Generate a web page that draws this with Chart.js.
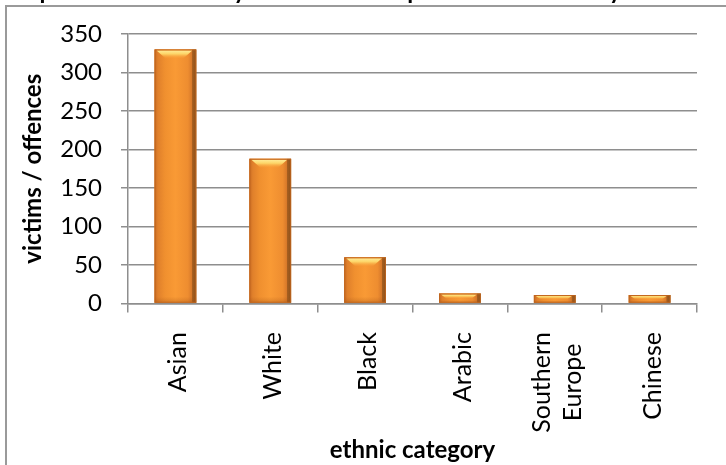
<!DOCTYPE html>
<html>
<head>
<meta charset="utf-8">
<script src="https://cdn.jsdelivr.net/npm/chart.js@4.4.1/dist/chart.umd.min.js"></script>
<style>
  html, body { margin: 0; padding: 0; background: #fff; }
  #wrap { width: 726px; height: 465px; position: relative; }
</style>
</head>
<body>
<div id="wrap"><canvas id="chart"></canvas></div>
<script>
// --- data ---
const categories = [['Asian'], ['White'], ['Black'], ['Arabic'], ['Southern', 'Europe'], ['Chinese']];
const victims = [330, 188, 60, 13, 11, 11];
const yTicks = [0, 50, 100, 150, 200, 250, 300, 350];

const chartTitle = 'Comparison of ethnicity of victims compared with ethnicity of offenders, 2009';
const yTitle = 'victims / offences';
const xTitle = 'ethnic category';

const AXIS_GREY = '#8e8e8e';
const FONT = 'Lato, "Open Sans", sans-serif';

// white page with the grey frame (top and left edges show in the picture)
const framePlugin = {
    id: 'frame',
    beforeDraw(chart) {
        const ctx = chart.ctx;
        ctx.save();
        ctx.fillStyle = '#fff';
        ctx.fillRect(0, 0, chart.width, chart.height);
        ctx.strokeStyle = '#9a9a9a';
        ctx.lineWidth = 2;
        ctx.beginPath();
        ctx.moveTo(6, chart.height);
        ctx.lineTo(6, 6);
        ctx.lineTo(chart.width, 6);
        ctx.stroke();
        ctx.restore();
    }
};

// the title sits above the top edge, only its descenders are visible
const clippedTitlePlugin = {
    id: 'clippedTitle',
    afterDraw(chart) {
        const ctx = chart.ctx;
        ctx.save();
        ctx.font = `bold 24px ${FONT}`;
        ctx.fillStyle = '#000';
        ctx.textAlign = 'left';
        ctx.textBaseline = 'alphabetic';
        ctx.fillText(chartTitle, -10, -1);
        ctx.restore();
    }
};

// bevelled orange look of the bars, drawn over each bar element
function paintBar(ctx, l, r, t, b) {
    const w = r - l, h = b - t;
    if (h <= 0) return;

    const g = ctx.createLinearGradient(l, 0, r, 0);
    g.addColorStop(0, '#c76a22');
    g.addColorStop(0.08, '#e0802b');
    g.addColorStop(0.25, '#f0902f');
    g.addColorStop(0.5, '#f99a35');
    g.addColorStop(0.8, '#ee8d30');
    g.addColorStop(0.9, '#d6782a');
    g.addColorStop(0.91, '#a55e1f');
    g.addColorStop(1, '#8c511c');
    ctx.fillStyle = g;
    ctx.fillRect(l, t, w, h);

    // darker foot
    const fh = Math.min(6, h * 0.3);
    const gb = ctx.createLinearGradient(0, b - fh, 0, b);
    gb.addColorStop(0, 'rgba(160,80,20,0)');
    gb.addColorStop(1, 'rgba(160,80,20,0.35)');
    ctx.fillStyle = gb;
    ctx.fillRect(l, b - fh, w, fh);

    // yellow highlight on top
    const bh = Math.min(9, h * 0.55);
    const gy = ctx.createLinearGradient(0, t, 0, t + bh);
    gy.addColorStop(0, '#fff1a2');
    gy.addColorStop(0.5, '#fdd568');
    gy.addColorStop(1, 'rgba(249,154,53,0.2)');
    ctx.fillStyle = gy;
    ctx.beginPath();
    ctx.moveTo(l + 2, t + 1);
    ctx.lineTo(r - 4, t + 1);
    ctx.lineTo(r - 4 - bh, t + bh);
    ctx.lineTo(l + 2 + bh, t + bh);
    ctx.closePath();
    ctx.fill();

    ctx.strokeStyle = 'rgba(190,100,30,0.9)';
    ctx.lineWidth = 1;
    ctx.strokeRect(l + 0.5, t + 0.5, w - 1, h - 1);
}

const bevelPlugin = {
    id: 'bevel',
    afterDatasetsDraw(chart) {
        const ctx = chart.ctx;
        ctx.save();
        chart.getDatasetMeta(0).data.forEach(el => {
            const p = el.getProps(['x', 'y', 'base', 'width'], true);
            paintBar(ctx, p.x - p.width / 2, p.x + p.width / 2, p.y, p.base);
        });
        ctx.restore();
    }
};

// rotated category labels, lines centred on each other like the reference
const xLabelPlugin = {
    id: 'xLabels',
    afterDraw(chart) {
        const ctx = chart.ctx;
        const xs = chart.scales.x;
        const top = xs.top + 28.5;
        ctx.save();
        ctx.font = `25px ${FONT}`;
        ctx.fillStyle = '#000';
        ctx.textAlign = 'center';
        ctx.textBaseline = 'middle';
        categories.forEach((lines, i) => {
            const cx = xs.getPixelForTick(i) + 3;
            const maxW = Math.max(...lines.map(s => ctx.measureText(s).width));
            lines.forEach((s, j) => {
                const lx = cx + (j - (lines.length - 1) / 2) * 31;
                ctx.save();
                ctx.translate(lx, top + maxW / 2);
                ctx.rotate(-Math.PI / 2);
                ctx.fillText(s, 0, 0);
                ctx.restore();
            });
        });
        ctx.restore();
    }
};

new Chart(document.getElementById('chart'), {
    type: 'bar',
    data: {
        labels: categories,
        datasets: [{
            label: 'victims',
            data: victims,
            backgroundColor: '#f39530',
            borderWidth: 0,
            categoryPercentage: 1,
            barPercentage: 0.44
        }]
    },
    options: {
        responsive: true,
        maintainAspectRatio: false,
        animation: false,
        devicePixelRatio: 1,
        layout: { padding: { left: 8, top: 34, right: 29, bottom: 0 } },
        plugins: {
            legend: { display: false },
            title: { display: false },
            tooltip: { enabled: false }
        },
        scales: {
            x: {
                grid: {
                    display: true,
                    drawOnChartArea: false,
                    drawTicks: true,
                    tickLength: 9,
                    offset: true,
                    color: AXIS_GREY,
                    lineWidth: 1.5
                },
                border: { display: true, color: AXIS_GREY, width: 1.5 },
                ticks: { display: false },
                title: {
                    display: true,
                    text: xTitle,
                    color: '#000',
                    font: { family: FONT, size: 24, weight: 'bold' },
                    padding: { top: 0, bottom: 0 }
                },
                afterFit: s => { s.height = 161.5; }
            },
            y: {
                min: 0,
                max: 350,
                afterBuildTicks: s => { s.ticks = yTicks.map(v => ({ value: v })); },
                grid: {
                    color: AXIS_GREY,
                    lineWidth: 1.5,
                    tickLength: 7
                },
                border: { display: true, color: AXIS_GREY, width: 1.5 },
                ticks: {
                    color: '#000',
                    padding: 19,
                    font: { family: FONT, size: 24 }
                },
                title: {
                    display: true,
                    text: yTitle,
                    color: '#000',
                    font: { family: FONT, size: 24, weight: 'bold' },
                    padding: { top: 11, bottom: 0 }
                },
                afterFit: s => { s.width = 120; }
            }
        }
    },
    plugins: [framePlugin, bevelPlugin, xLabelPlugin, clippedTitlePlugin]
});
</script>
</body>
</html>
